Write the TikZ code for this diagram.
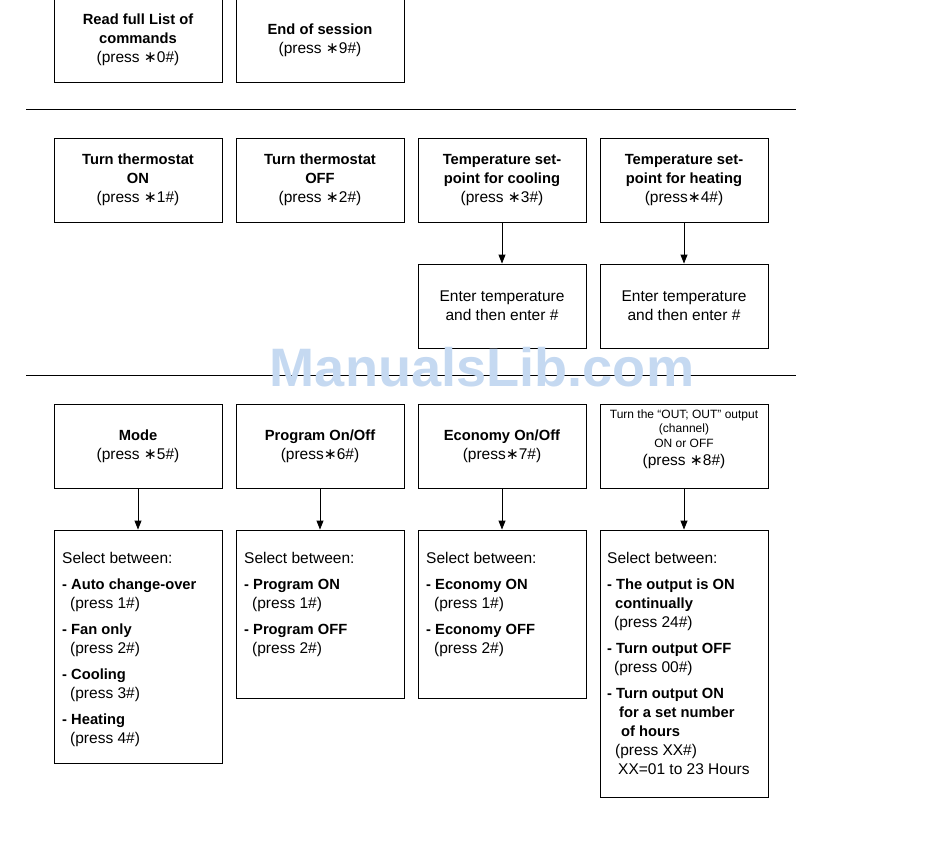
\documentclass[tikz,border=0pt]{standalone}
\usepackage{fontspec}
\setmainfont{Liberation Sans}[BoldFeatures={Scale=0.95}]
\newfontfamily\djv{DejaVu Sans}
\usetikzlibrary{arrows.meta}
\definecolor{wmblue}{RGB}{197,217,241}
\newcommand\myast{{\djv ∗}}
\begin{document}
\begin{tikzpicture}[x=1pt,y=-1pt,
  box/.style={draw, line width=0.9pt, minimum width=168pt, inner sep=0pt},
  hdr/.style={align=center, font=\fontsize{15.5}{19}\selectfont, inner sep=0pt},
  sel/.style={anchor=north west, align=left, font=\fontsize{15.5}{19}\selectfont, inner sep=0pt},
  small/.style={align=center, font=\fontsize{12}{14.5}\selectfont, inner sep=0pt},
  arr/.style={-{Triangle[length=9pt,width=7pt]}, line width=0.9pt},
  sepline/.style={line width=0.9pt}]
\useasboundingbox (0,0) rectangle (950,846);
\clip (0,0) rectangle (950,846);

% row 1
\node[box, minimum height=88pt] (cmd) at (138,38) {};
\node[hdr] (cmdt) at (138,40) {\textbf{Read full List of}\\\textbf{commands}\\(press \myast0\#)};
\node[box, minimum height=88pt] (end) at (320,38) {};
\node[hdr] (endt) at (320,40) {\textbf{End of session}\\(press \myast9\#)};

\draw[sepline] (26,109) -- (796,109);

% row 2
\node[box, minimum height=84pt, hdr] (on) at (138,180) {\textbf{Turn thermostat}\\\textbf{ON}\\(press \myast1\#)};
\node[box, minimum height=84pt, hdr] (off) at (320,180) {\textbf{Turn thermostat}\\\textbf{OFF}\\(press \myast2\#)};
\node[box, minimum height=84pt, hdr] (cool) at (502,180) {\textbf{Temperature set-}\\\textbf{point for cooling}\\(press \myast3\#)};
\node[box, minimum height=84pt, hdr] (heat) at (684,180) {\textbf{Temperature set-}\\\textbf{point for heating}\\(press\myast4\#)};
\node[box, minimum height=84pt, hdr] (ecool) at (502,306) {Enter temperature\\and then enter \#};
\node[box, minimum height=84pt, hdr] (eheat) at (684,306) {Enter temperature\\and then enter \#};
\draw[arr] (cool) -- (ecool);
\draw[arr] (heat) -- (eheat);

\draw[sepline] (26,375) -- (796,375);

% row 3
\node[box, minimum height=84pt, hdr] (mode) at (138,446) {\textbf{Mode}\\(press \myast5\#)};
\node[box, minimum height=84pt, hdr] (prog) at (320,446) {\textbf{Program On/Off}\\(press\myast6\#)};
\node[box, minimum height=84pt, hdr] (eco) at (502,446) {\textbf{Economy On/Off}\\(press\myast7\#)};
\node[box, minimum height=84pt] (outb) at (684,446) {};
\node[small, anchor=north] (outt) at (684,409.5) {Turn the ``OUT; OUT'' output\\(channel)\\ON or OFF};
\node[hdr, anchor=north] (outp) at (684,454) {(press \myast8\#)};

% select boxes
\node[box, minimum height=233pt] (smode) at (138,646.5) {};
\node[box, minimum height=168pt] (sprog) at (320,614) {};
\node[box, minimum height=168pt] (seco) at (502,614) {};
\node[box, minimum height=267pt] (sout) at (684,663.5) {};

\node[sel] (tmode) at (62,552) {Select between:\\[7pt]
\textbf{- Auto change-over}\\
\hspace*{8pt}(press 1\#)\\[7pt]
\textbf{- Fan only}\\
\hspace*{8pt}(press 2\#)\\[7pt]
\textbf{- Cooling}\\
\hspace*{8pt}(press 3\#)\\[7pt]
\textbf{- Heating}\\
\hspace*{8pt}(press 4\#)};

\node[sel] (tprog) at (244,552) {Select between:\\[7pt]
\textbf{- Program ON}\\
\hspace*{8pt}(press 1\#)\\[7pt]
\textbf{- Program OFF}\\
\hspace*{8pt}(press 2\#)};

\node[sel] (teco) at (426,552) {Select between:\\[7pt]
\textbf{- Economy ON}\\
\hspace*{8pt}(press 1\#)\\[7pt]
\textbf{- Economy OFF}\\
\hspace*{8pt}(press 2\#)};

\node[sel] (tout) at (607,552) {Select between:\\[7pt]
\textbf{- The output is ON}\\
\hspace*{8pt}\textbf{continually}\\
\hspace*{7pt}(press 24\#)\\[7pt]
\textbf{- Turn output OFF}\\
\hspace*{7pt}(press 00\#)\\[7pt]
\textbf{- Turn output ON}\\
\hspace*{12pt}\textbf{for a set number}\\
\hspace*{14pt}\textbf{of hours}\\
\hspace*{8pt}(press XX\#)\\
\hspace*{11pt}XX=01 to 23 Hours};

\draw[arr] (mode) -- (smode);
\draw[arr] (prog) -- (sprog);
\draw[arr] (eco) -- (seco);
\draw[arr] (outb) -- (sout);

% watermark
\node[text=wmblue, font=\fontsize{57}{57}\selectfont\bfseries, inner sep=0pt] (wm) at (482,367) {ManualsLib.com};
\end{tikzpicture}
\end{document}
